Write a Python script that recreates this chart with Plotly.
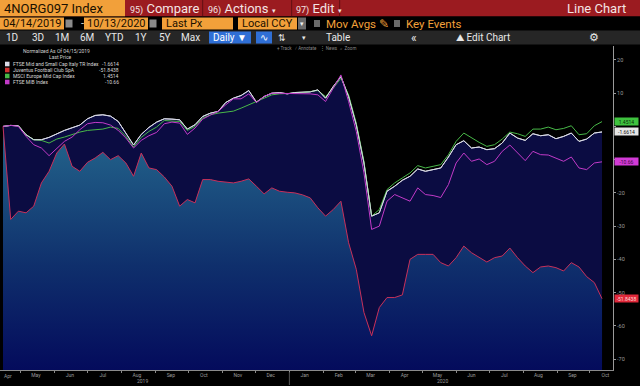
import pandas as pd
import plotly.graph_objects as go

# ---------------- data (weekly readings, % change normalized as of 04/15/2019) ----------------
DATES = pd.date_range("2019-04-15", periods=79, freq="7D")

FTSE_MID_SMALL = [0.0, 0.3, 0.2, -2.5, -4.0, -4.0, -3.3, -2.2, -1.2, -0.4,
                  0.4, 2.3, 3.3, 3.5, 3.1, 1.5, -2.0, -5.6, -2.4, -0.3,
                  1.3, 2.3, 2.2, 2.0, -0.8, 0.5, 3.0, 4.0, 4.5, 7.2,
                  8.5, 9.3, 10.8, 7.3, 9.0, 10.0, 10.2, 9.8, 10.2, 10.2,
                  10.4, 11.0, 8.5, 12.0, 15.0, 9.0, 0.5, -11.0, -27.0, -26.0,
                  -19.5, -18.0, -16.2, -15.0, -12.8, -13.5, -13.1, -12.5, -9.2, -5.5,
                  -4.3, -6.5, -6.2, -7.0, -6.7, -5.0, -2.0, -3.5, -4.2, -2.2,
                  -2.8, -2.5, -3.7, -3.0, -2.0, -4.5, -3.8, -2.0, -1.6614]

JUVENTUS = [0.0, -28.0, -25.5, -26.0, -24.0, -17.0, -13.5, -8.0, -5.3, -12.0,
            -13.5, -10.8, -9.5, -7.8, -10.0, -8.8, -11.0, -15.0, -8.0, -12.5,
            -13.0, -15.2, -18.0, -24.0, -22.0, -23.0, -16.0, -16.0, -16.5, -16.8,
            -17.0, -16.5, -15.8, -18.0, -20.3, -18.5, -19.5, -19.8, -20.0, -20.6,
            -21.5, -24.5, -27.0, -25.0, -22.5, -35.0, -43.0, -56.0, -63.0, -54.5,
            -51.5, -51.5, -50.7, -40.0, -38.5, -38.5, -38.5, -41.0, -42.0, -39.5,
            -36.0, -38.0, -39.5, -40.8, -39.5, -39.0, -36.6, -39.5, -42.0, -44.0,
            -42.3, -42.0, -42.5, -43.5, -41.0, -42.3, -45.2, -47.0, -51.8438]

MSCI_EUROPE_MID = [0.0, 0.3, 0.2, -2.5, -4.0, -4.2, -5.0, -3.8, -3.2, -2.4,
                   -1.7, -1.2, -1.1, -0.8, -0.2, -0.6, -3.0, -6.2, -3.3, -1.5,
                   -0.2, 1.8, 1.6, 1.5, -1.2, 0.0, 2.5, 3.5, 4.0, 4.3,
                   4.6, 5.5, 6.4, 7.5, 8.5, 9.5, 9.8, 9.8, 10.0, 10.2,
                   10.4, 10.8, 9.0, 11.5, 14.5, 9.5, 1.0, -10.5, -27.0, -25.0,
                   -19.0, -17.0, -15.5, -14.0, -11.8, -12.5, -12.0, -11.5, -8.5, -4.5,
                   -2.0, -3.5, -4.8, -6.0, -5.5, -3.8, -1.7, -2.2, -3.0, -0.8,
                   -0.8, -0.2, -1.0, -0.6, 0.2, -2.5, -2.2, 0.2, 1.4514]

FTSE_MIB = [0.0, 0.3, 0.0, -3.0, -5.5, -6.5, -8.8, -6.5, -4.5, -3.2,
            -1.0, 0.8, 1.2, 1.1, 0.4, -1.2, -3.5, -6.5, -4.2, -2.8,
            -1.8, 0.8, 1.3, 1.0, -2.4, -0.5, 2.2, 3.4, 4.5, 6.5,
            8.3, 8.3, 9.8, 7.2, 9.0, 10.0, 10.0, 9.8, 10.0, 10.0,
            9.8, 9.5, 7.5, 11.5, 15.5, 7.5, -1.5, -14.0, -31.0, -30.0,
            -22.5, -20.5, -21.5, -22.5, -18.5, -20.5, -20.8, -21.4, -17.5, -11.0,
            -8.0, -10.5, -9.8, -11.5, -10.5, -7.5, -5.6, -8.0, -10.3, -7.5,
            -8.5, -8.6, -9.5, -10.5, -9.2, -12.5, -13.0, -11.0, -10.66]

SERIES_NAMES = ["FTSE Mid and Small Cap Italy TR Index", "Juventus Football Club SpA",
                "MSCI Europe Mid Cap Index", "FTSE MIB Index"]
LAST_LABELS = ["-1.6614", "-51.8438", "1.4514", "-10.66"]

MONTH_TICKS = ["2019-04-15", "2019-05-15", "2019-06-15", "2019-07-15", "2019-08-15",
               "2019-09-15", "2019-10-15", "2019-11-15", "2019-12-15", "2020-01-15",
               "2020-02-15", "2020-03-15", "2020-04-15", "2020-05-15", "2020-06-15",
               "2020-07-15", "2020-08-15", "2020-09-15", "2020-10-15"]
MONTH_LABELS = ["Apr", "May", "Jun", "Jul", "Aug", "Sep", "Oct", "Nov", "Dec", "Jan",
                "Feb", "Mar", "Apr", "May", "Jun", "Jul", "Aug", "Sep", "Oct"]
YEAR_LABELS = ["2019", "2020"]
YEAR_POS = ["2019-08-20", "2020-05-20"]
Y_TICKS = [20, 10, 0, -10, -20, -30, -40, -50, -60, -70]
# labels at 0 and -10 sit under the last-value tags, as in the terminal
Y_TICK_TEXT = ["20", "10", "", "", "-20", "-30", "-40", "-50", "-60", "-70"]

# ---------------- styling ----------------
W, H = 640, 386
ML, MR, MT, MB = 0, 27, 46, 16
PW, PH = W - ML - MR, H - MT - MB
Y_RANGE = [-73.3, 24.2]
X_RANGE = ["2019-04-12 06:00", "2020-10-22"]

WHITE = "#d9dae6"
RED = "#c8305a"
GREEN = "#48b848"
MAGENTA = "#c23ac8"
ORANGE = "#f2a03a"
BARRED = "#9b1b20"
FONT = "Roboto, Arial, sans-serif"


def fx(px):
    return (px - ML) / PW


def fy(py):
    return (H - MB - py) / PH


fig = go.Figure()
base = [Y_RANGE[0]] * len(DATES)

# primary mountain (FTSE Mid & Small)
fig.add_trace(go.Scatter(x=DATES, y=base, mode="lines", line=dict(width=0),
                         showlegend=False, hoverinfo="skip"))
fig.add_trace(go.Scatter(x=DATES, y=FTSE_MID_SMALL, mode="lines", fill="tonexty",
                         fillcolor="#0b0c42", line=dict(color=WHITE, width=1),
                         name=SERIES_NAMES[0], showlegend=False))
# Juventus mountain with vertical gradient
fig.add_trace(go.Scatter(x=DATES, y=base, mode="lines", line=dict(width=0),
                         showlegend=False, hoverinfo="skip"))
fig.add_trace(go.Scatter(x=DATES, y=JUVENTUS, mode="lines", fill="tonexty",
                         fillgradient=dict(type="vertical", start=Y_RANGE[0], stop=-4,
                                           colorscale=[[0, "#040b5c"], [0.45, "#0f2f6c"],
                                                       [1, "#22628a"]]),
                         line=dict(color=RED, width=1),
                         name=SERIES_NAMES[1], showlegend=False))
fig.add_trace(go.Scatter(x=DATES, y=MSCI_EUROPE_MID, mode="lines",
                         line=dict(color=GREEN, width=1), name=SERIES_NAMES[2], showlegend=False))
fig.add_trace(go.Scatter(x=DATES, y=FTSE_MID_SMALL, mode="lines",
                         line=dict(color=WHITE, width=1), name=SERIES_NAMES[0], showlegend=False))
fig.add_trace(go.Scatter(x=DATES, y=FTSE_MIB, mode="lines",
                         line=dict(color=MAGENTA, width=1), name=SERIES_NAMES[3], showlegend=False))

shapes = []
ann = []


def rect(x0, y0, x1, y1, color, line=None):
    shapes.append(dict(type="rect", xref="paper", yref="paper", x0=fx(x0), x1=fx(x1),
                       y0=fy(y1), y1=fy(y0), fillcolor=color,
                       line=dict(width=0) if line is None else line, layer="above"))


def text(x, y, s, size=10, color="white", anchor="left", family=FONT):
    ann.append(dict(xref="paper", yref="paper", x=fx(x), y=fy(y), text=s, showarrow=False,
                    xanchor=anchor, yanchor="middle", font=dict(size=size, color=color, family=family)))


# ---- toolbar row 1 ----
rect(0, 0, 640, 16.5, BARRED)
rect(0, 0, 125, 16.5, ORANGE)
for sx in (202, 291, 339):
    rect(sx, 0, sx + 1.2, 16.5, "#6a1014")
text(2, 8.5, "4NORG097 Index", 13, "#1a1000")
text(128, 8.5, "<span style='font-size:9px'>95)</span> Compare", 13, "#f4e4e4")
text(206, 8.5, "<span style='font-size:9px'>96)</span> Actions <span style='font-size:7px'>▾</span>", 13, "#f4e4e4")
text(294, 8.5, "<span style='font-size:9px'>97)</span> Edit <span style='font-size:7px'>▾</span>", 13, "#f4e4e4")
text(628, 8.5, "Line Chart", 13, "#f4e4e4", anchor="right")

# ---- toolbar row 2 ----
rect(0, 16.5, 640, 30.5, "#000000")
rect(0, 17.5, 64, 29.5, ORANGE)
rect(65.5, 19.5, 72.5, 27.5, "#8a8a8a")
text(79, 23.5, "-", 11, "#dddddd")
rect(84, 17.5, 148, 29.5, ORANGE)
rect(149.5, 19.5, 156.5, 27.5, "#8a8a8a")
rect(162, 17.5, 233, 29.5, ORANGE)
rect(238, 17.5, 297, 29.5, ORANGE)
rect(298, 17.5, 306, 29.5, "#6a6a6a")
text(1, 23.5, "04/14/2019", 11, "#1a1000")
text(85, 23.5, "10/13/2020", 11, "#1a1000")
text(164, 23.5, "Last Px", 11, "#1a1000")
text(240, 23.5, "Local CCY", 11, "#1a1000")
text(302, 23.5, "▾", 7, "#eeeeee", anchor="center")
rect(314, 20, 320, 27, "#6a6a6a")
text(324, 23.5, "Mov Avgs ✎", 11.5, ORANGE)
rect(394, 20, 400, 27, "#6a6a6a")
text(404, 23.5, "Key Events", 11.5, ORANGE)

# ---- toolbar row 3 ----
rect(0, 30.5, 640, 44.5, "#262626")
for lbl, xc in [("1D", 12), ("3D", 38), ("1M", 62), ("6M", 87), ("YTD", 114), ("1Y", 141),
                ("5Y", 165), ("Max", 190)]:
    text(xc, 37.5, lbl, 10, "#e8e8e8", anchor="center")
rect(209, 31.5, 251, 43.5, "#2f6fd6")
text(230, 37.5, "Daily ▼", 10, "white", anchor="center")
rect(256, 31.5, 272, 43.5, "#2f6fd6")
text(264, 37.5, "∿", 10, "white", anchor="center")
text(282, 37.5, "⇅", 9, "#e8e8e8", anchor="center")
text(304, 37.5, "▾", 7, "#e8e8e8", anchor="center")
text(338, 37.5, "Table", 10, "#e8e8e8", anchor="center")
text(414, 37.5, "«", 12, "#e8e8e8", anchor="center")
text(483, 37.5, "⛰ Edit Chart", 10, "#e8e8e8", anchor="center")
text(594, 37.5, "⚙", 11, "#e8e8e8", anchor="center")

# ---- in-chart mini toolbar ----
text(316, 48, "+ Track   ⁄ Annotate   ⋮ News   ⌕ Zoom", 4.5, "#8a8a8a", anchor="center")

# ---- legend ----
text(56, 51, "Normalized As Of 04/15/2019", 5, "#d0d0d0", anchor="center")
text(60, 57, "Last Price", 5, "#d0d0d0", anchor="center")
LEG_COLORS = [WHITE, "#d03030", GREEN, MAGENTA]
for i, (nm, val, col) in enumerate(zip(SERIES_NAMES, LAST_LABELS, LEG_COLORS)):
    yy = 64 + 6 * i
    rect(5, yy - 2.3, 9.5, yy + 2.3, col)
    text(11, yy, nm, 5, "#d8d8d8")
    text(121, yy, val, 5, "#d8d8d8", anchor="right")

# ---- right-axis last value tags ----
TAG_STYLE = [(FTSE_MID_SMALL[-1], LAST_LABELS[0], "#e6e6e6", "#111111"),
             (JUVENTUS[-1], LAST_LABELS[1], "#e0283a", "#ffd8d8"),
             (MSCI_EUROPE_MID[-1], LAST_LABELS[2], "#3ec23e", "#0a2a0a"),
             (FTSE_MIB[-1], LAST_LABELS[3], "#d23ad6", "#3a0a3a")]
for val, lbl, bg, fg in TAG_STYLE:
    ann.append(dict(xref="paper", yref="y", x=fx(613.5), y=val, text=lbl, showarrow=False,
                    xanchor="left", yanchor="middle", bgcolor=bg, borderpad=0.5, width=22,
                    height=6, align="center", font=dict(size=5, color=fg, family=FONT)))

# ---- first month label (sits at the very left edge) ----
ann.append(dict(xref="paper", yref="paper", x=fx(8), y=fy(376), text=MONTH_LABELS[0],
                showarrow=False, xanchor="center", yanchor="middle",
                font=dict(size=5, color="#9a9a9a", family=FONT)))

# ---- year labels ----
for lbl, pos in zip(YEAR_LABELS, YEAR_POS):
    ann.append(dict(xref="x", yref="paper", x=pos, y=fy(381), text=lbl, showarrow=False,
                    xanchor="center", yanchor="middle",
                    font=dict(size=5, color="#9a9a9a", family=FONT)))
shapes.append(dict(type="line", xref="x", yref="paper", x0="2020-01-01", x1="2020-01-01",
                   y0=fy(372), y1=fy(385), line=dict(color="#555555", width=1)))

fig.update_layout(
    width=W, height=H,
    margin=dict(l=ML, r=MR, t=MT, b=MB, autoexpand=False),
    paper_bgcolor="#000000", plot_bgcolor="#000000",
    showlegend=False, shapes=shapes, annotations=ann,
    font=dict(family=FONT, color="#aaaaaa"),
    xaxis=dict(type="date", range=X_RANGE, showgrid=False, zeroline=False,
               tickvals=MONTH_TICKS[1:], ticktext=MONTH_LABELS[1:], ticks="",
               tickfont=dict(size=5, color="#9a9a9a"),
               showline=True, linecolor="#8a8a8a", linewidth=1,
               minor=dict(ticks="outside", ticklen=2, tickcolor="#8a8a8a",
                          dtick="M1", tick0="2019-04-01", showgrid=False)),
    yaxis=dict(range=Y_RANGE, side="right", showgrid=False, zeroline=False,
               tickvals=Y_TICKS, ticktext=Y_TICK_TEXT, ticks="outside", ticklen=2,
               tickcolor="#9a9a9a", tickfont=dict(size=5.5, color="#9a9a9a"),
               showline=True, linecolor="#9a9a9a", linewidth=1),
)

fig.write_html("out.html", config={"displayModeBar": False},
               post_script="document.body.style.margin='0';document.body.style.overflow='hidden';")
